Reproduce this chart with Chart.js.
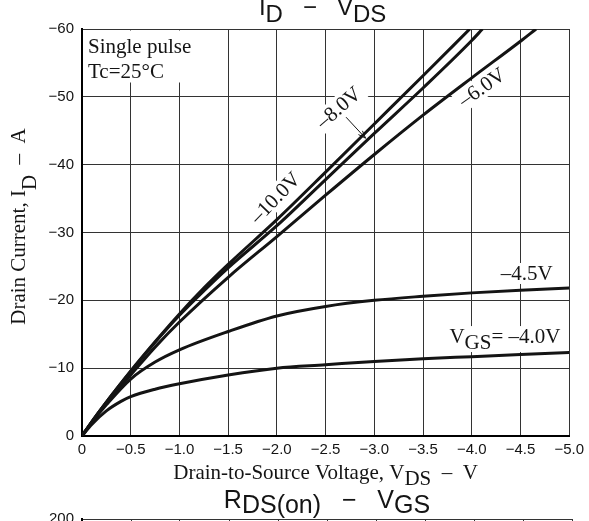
<!DOCTYPE html>
<html>
<head>
<meta charset="utf-8">
<title>ID - VDS</title>
<script src="https://cdn.jsdelivr.net/npm/chart.js@4.4.1/dist/chart.umd.min.js"></script>
<style>
  html, body { margin: 0; padding: 0; background: #fff; overflow: hidden; }
  #wrap { position: relative; width: 589px; height: 521px; overflow: hidden; }
  #chartIdVds { position: absolute; left: 0; top: 0; }
  #chartRds { position: absolute; left: 0; top: 486px; }
</style>
</head>
<body>
<div id="wrap">
  <canvas id="chartIdVds" width="589" height="521"></canvas>
  <canvas id="chartRds" width="589" height="300"></canvas>
</div>
<script>
// Drain current vs drain-source voltage, one curve per gate voltage
const vds10 = [0, -0.1, -0.25, -0.5, -0.75, -1.0, -1.25, -1.5, -2.0, -2.5, -3.0, -3.5, -3.98];
const id10  = [0, -2.1, -5.0, -9.6, -13.9, -18.0, -21.8, -25.3, -31.9, -38.9, -46.0, -53.1, -60];

const vds8 = [0, -0.1, -0.25, -0.5, -0.75, -1.0, -1.25, -1.5, -2.0, -2.5, -3.0, -3.5, -4.0, -4.11];
const id8  = [0, -2.1, -5.0, -9.5, -13.8, -17.8, -21.4, -24.8, -31.0, -37.8, -44.6, -51.3, -58.3, -60];

const vds6 = [0, -0.1, -0.25, -0.5, -0.75, -1.0, -1.5, -2.0, -2.5, -3.0, -3.5, -4.0, -4.5, -4.66];
const id6  = [0, -2.0, -4.9, -9.0, -13.1, -16.8, -23.4, -29.4, -35.5, -41.5, -47.3, -52.8, -58.2, -60];

const vds45 = [0, -0.1, -0.25, -0.5, -0.75, -1.0, -1.5, -2.0, -2.5, -3.0, -3.5, -4.0, -4.5, -5.0];
const id45  = [0, -2.0, -4.6, -8.4, -10.9, -12.7, -15.4, -17.7, -19.1, -20.0, -20.6, -21.1, -21.5, -21.8];

const vds40 = [0, -0.1, -0.25, -0.4, -0.5, -0.75, -1.0, -1.5, -2.0, -2.5, -3.0, -3.5, -4.0, -4.5, -5.0];
const id40  = [0, -1.7, -3.7, -5.1, -5.8, -6.9, -7.7, -9.0, -10.0, -10.5, -11.0, -11.4, -11.7, -12.0, -12.3];

// curve labels: [text, vds, id, rotation in degrees]
const curveLabels = [
  ["–10.0V", -1.99, -35.0, -46],
  ["–8.0V", -2.64, -48.3, -41],
  ["–6.0V", -4.11, -51.3, -35]
];

const SANS = '"Liberation Sans", Arial, sans-serif';
const SERIF = '"Liberation Serif", "Times New Roman", serif';
const INK = "#141414";

function pts(xs, ys) {
  return xs.map((x, i) => ({ x: x, y: ys[i] }));
}

function fmtTick(v, digits) {
  if (v === 0) return "0";
  return "\u2212" + Math.abs(v).toFixed(digits);
}

// text with subscripts, runs = [[text, isSub], ...]
function drawRuns(ctx, runs, x, y, font, subShift, align) {
  ctx.font = font;
  let total = 0;
  runs.forEach((r) => { total += ctx.measureText(r[0]).width; });
  let cx = x;
  if (align === "center") cx = x - total / 2;
  if (align === "right") cx = x - total;
  ctx.textAlign = "left";
  ctx.textBaseline = "alphabetic";
  runs.forEach((r) => {
    ctx.fillText(r[0], cx, y + (r[1] ? subShift : 0));
    cx += ctx.measureText(r[0]).width;
  });
  return total;
}

const idVdsDeco = {
  id: "idVdsDeco",
  beforeDatasetsDraw(chart) {
    const ctx = chart.ctx;
    const xs = chart.scales.x, ys = chart.scales.y;
    const area = chart.chartArea;
    ctx.save();

    // note box in the upper left corner
    ctx.fillStyle = "#fff";
    ctx.fillRect(area.left + 1.5, area.top + 1.5, 112, 52);
    ctx.fillStyle = INK;
    ctx.font = "21px " + SERIF;
    ctx.textAlign = "left";
    ctx.textBaseline = "alphabetic";
    ctx.fillText("Single pulse", area.left + 6, area.top + 24);
    ctx.fillText("Tc=25°C", area.left + 6, area.top + 49);

    // rotated gate voltage labels
    curveLabels.forEach((l) => {
      const px = xs.getPixelForValue(l[1]);
      const py = ys.getPixelForValue(l[2]);
      ctx.save();
      ctx.translate(px, py);
      ctx.rotate(l[3] * Math.PI / 180);
      ctx.font = "21px " + SERIF;
      const w = ctx.measureText(l[0]).width;
      ctx.fillStyle = "#fff";
      ctx.fillRect(-w / 2 - 4, -12, w + 8, 22);
      ctx.fillStyle = INK;
      ctx.textAlign = "center";
      ctx.textBaseline = "middle";
      ctx.fillText(l[0], 0, 0);
      ctx.restore();
    });

    // -4.5V label
    ctx.font = "21px " + SERIF;
    let px = xs.getPixelForValue(-4.83);
    let py = ys.getPixelForValue(-23.0);
    let w = ctx.measureText("–4.5V").width;
    ctx.fillStyle = "#fff";
    ctx.fillRect(px - w - 3, py - 17, w + 6, 21);
    ctx.fillStyle = INK;
    ctx.textAlign = "right";
    ctx.fillText("–4.5V", px, py);

    // VGS = -4.0V label
    px = xs.getPixelForValue(-4.91);
    py = ys.getPixelForValue(-13.7);
    const runs = [["V", 0], ["GS", 1], ["= –4.0V", 0]];
    ctx.font = "21px " + SERIF;
    w = runs.reduce((s, r) => s + ctx.measureText(r[0]).width, 0);
    ctx.fillStyle = "#fff";
    ctx.fillRect(px - w - 3, py - 17, w + 6, 26);
    ctx.fillStyle = INK;
    drawRuns(ctx, runs, px, py, "21px " + SERIF, 6, "right");
    ctx.restore();
  },
  afterDatasetsDraw(chart) {
    const ctx = chart.ctx;
    const xs = chart.scales.x, ys = chart.scales.y;
    ctx.save();
    // arrow from the -8.0V label to its curve
    const x0 = xs.getPixelForValue(-2.71), y0 = ys.getPixelForValue(-47.0);
    const x1 = xs.getPixelForValue(-2.91), y1 = ys.getPixelForValue(-43.9);
    ctx.strokeStyle = INK;
    ctx.lineWidth = 1;
    ctx.beginPath();
    ctx.moveTo(x0, y0);
    ctx.lineTo(x1, y1);
    const a = Math.atan2(y1 - y0, x1 - x0);
    ctx.moveTo(x1, y1);
    ctx.lineTo(x1 - 8 * Math.cos(a - 0.35), y1 - 8 * Math.sin(a - 0.35));
    ctx.moveTo(x1, y1);
    ctx.lineTo(x1 - 8 * Math.cos(a + 0.35), y1 - 8 * Math.sin(a + 0.35));
    ctx.stroke();
    ctx.restore();
  },
  afterDraw(chart) {
    const ctx = chart.ctx;
    const area = chart.chartArea;
    const cx = (area.left + area.right) / 2;
    ctx.save();
    ctx.fillStyle = INK;
    // chart title
    drawRuns(ctx, [["I", 0], ["D", 1], ["   −   ", 0], ["V", 0], ["DS", 1]],
      cx - 3, 15, "24px " + SANS, 7, "center");
    // x axis title
    drawRuns(ctx, [["Drain-to-Source Voltage, V", 0], ["DS", 1], ["  –  V", 0]],
      cx, 479, "21px " + SERIF, 6, "center");
    // y axis title
    ctx.translate(25, (area.top + area.bottom) / 2 - 6);
    ctx.rotate(-Math.PI / 2);
    drawRuns(ctx, [["Drain Current, I", 0], ["D", 1], ["  –  A", 0]],
      0, 0, "21px " + SERIF, 11, "center");
    ctx.restore();
  }
};

function curve(xs, ys) {
  return {
    data: pts(xs, ys),
    showLine: true,
    borderColor: INK,
    borderWidth: 3,
    pointRadius: 0,
    cubicInterpolationMode: "monotone",
    fill: false
  };
}

new Chart(document.getElementById("chartIdVds"), {
  type: "scatter",
  data: {
    datasets: [
      curve(vds10, id10),
      curve(vds8, id8),
      curve(vds6, id6),
      curve(vds45, id45),
      curve(vds40, id40)
    ]
  },
  options: {
    responsive: false,
    animation: false,
    devicePixelRatio: 1,
    layout: { padding: { top: 29, right: 17, left: 0, bottom: 0 } },
    plugins: { legend: { display: false }, tooltip: { enabled: false } },
    scales: {
      x: {
        type: "linear",
        min: -5, max: 0, reverse: true,
        afterFit: (s) => { s.height = 85; },
        grid: { color: "#333", lineWidth: 1, drawTicks: false },
        border: { color: "#000", width: 2 },
        ticks: {
          stepSize: 0.5, padding: 5, color: INK,
          font: { family: SANS, size: 15 },
          callback: (v) => fmtTick(v, 1)
        }
      },
      y: {
        type: "linear",
        min: -60, max: 0, reverse: true,
        afterFit: (s) => { s.width = 82; },
        grid: { color: "#333", lineWidth: 1, drawTicks: false },
        border: { color: "#000", width: 2 },
        ticks: {
          stepSize: 10, padding: 8, color: INK,
          font: { family: SANS, size: 15 },
          callback: (v) => fmtTick(v, 0)
        }
      }
    }
  },
  plugins: [idVdsDeco]
});

// second graph below: on-resistance vs gate voltage
const rdsDeco = {
  id: "rdsDeco",
  afterDraw(chart) {
    const ctx = chart.ctx;
    const area = chart.chartArea;
    ctx.save();
    ctx.fillStyle = INK;
    drawRuns(ctx, [["R", 0], ["DS(on)", 1], ["   −   ", 0], ["V", 0], ["GS", 1]],
      (area.left + area.right) / 2, 22, "25px " + SANS, 5, "center");
    ctx.restore();
  }
};

new Chart(document.getElementById("chartRds"), {
  type: "scatter",
  data: { datasets: [] },
  options: {
    responsive: false,
    animation: false,
    devicePixelRatio: 1,
    layout: { padding: { top: 33, right: 17, left: 0, bottom: 0 } },
    plugins: { legend: { display: false }, tooltip: { enabled: false } },
    scales: {
      x: {
        type: "linear",
        min: -10, max: 0, reverse: true,
        afterFit: (s) => { s.height = 40; },
        grid: { color: "#333", lineWidth: 1, drawTicks: false },
        border: { color: "#000", width: 2 },
        ticks: { stepSize: 1, color: INK, font: { family: SANS, size: 15 } }
      },
      y: {
        type: "linear",
        min: 0, max: 200,
        afterFit: (s) => { s.width = 82; },
        grid: { color: "#333", lineWidth: 1, drawTicks: false },
        border: { color: "#000", width: 2 },
        ticks: { stepSize: 20, padding: 8, color: INK, font: { family: SANS, size: 15 } }
      }
    }
  },
  plugins: [rdsDeco]
});
</script>
</body>
</html>
